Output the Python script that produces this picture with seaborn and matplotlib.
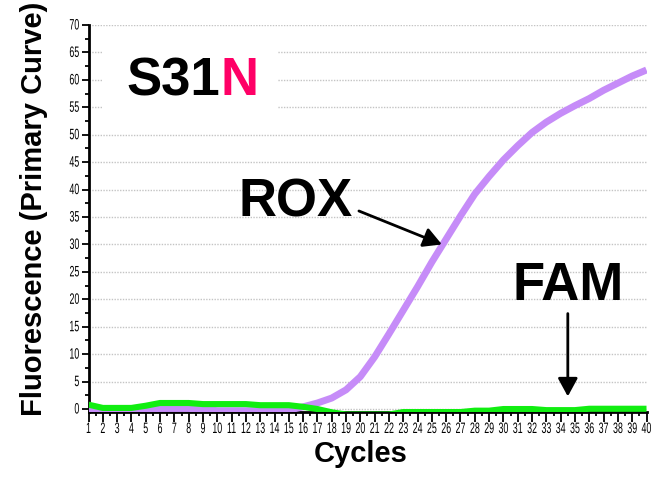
import numpy as np
import pandas as pd
import matplotlib
matplotlib.use("Agg")
import matplotlib.pyplot as plt
import matplotlib.patheffects as pe
from matplotlib.patches import Rectangle
from matplotlib.transforms import Affine2D
import seaborn as sns

# ---- data ----
cycles = list(range(1, 41))
rox = [-0.3, -0.3, -0.3, -0.3, 0.0, 0.1, 0.1, 0.1, 0.0,
       -0.3, -0.3, -0.3, -0.3, -0.3, -0.2,
       0.4, 1.1, 2.0, 3.5, 5.9, 9.5, 13.7, 18.0, 22.3, 26.8, 31.0, 35.2,
       39.2, 42.4, 45.4, 48.0, 50.4, 52.3, 53.9, 55.3, 56.6, 58.1, 59.4,
       60.7, 61.8]
fam = [0.8, 0.2, 0.2, 0.2, 0.6, 1.1, 1.1, 1.1, 0.9, 0.9, 0.9, 0.9,
       0.7, 0.7, 0.7, 0.4, 0.0, -0.6, -1.0, -1.0, -1.0, -1.0,
       -0.55, -0.55, -0.55, -0.55, -0.55, -0.3, -0.3, 0.0, 0.0, 0.0,
       -0.2, -0.2, -0.2, 0.05, 0.05, 0.05, 0.05, 0.05]
dyes = ["ROX", "FAM"]
y_ticks = list(range(0, 71, 5))
x_ticks = cycles

PURPLE = "#c68cf8"
GREEN = "#11ee11"
MAGENTA = "#ff0066"


class Squash(pe.AbstractPathEffect):
    """Draw text narrower / taller (condensed look) around an anchor."""

    def __init__(self, sx, sy, anchor="center"):
        super().__init__()
        self.sx, self.sy, self.anchor = sx, sy, anchor

    def draw_path(self, renderer, gc, tpath, affine, rgbFace=None):
        ext = tpath.get_extents()
        cx = (ext.x0 + ext.x1) / 2 if self.anchor == "center" else ext.x1
        a = Affine2D().translate(-cx, 0).scale(self.sx, self.sy).translate(cx, 0) + affine
        renderer.draw_path(gc, tpath, a, rgbFace)


sns.set_theme(style="white")
plt.rcParams["font.family"] = ["Liberation Sans", "DejaVu Sans"]

df = pd.DataFrame({
    "Cycle": cycles * 2,
    "Fluorescence": rox + fam,
    "Dye": [dyes[0]] * len(cycles) + [dyes[1]] * len(cycles),
})

fig = plt.figure(figsize=(6.63, 4.79), dpi=100)
ax = fig.add_axes([88.5 / 663, (479 - 411.5) / 479, 558 / 663, 386.5 / 479])

sns.lineplot(data=df, x="Cycle", y="Fluorescence", hue="Dye",
             palette={"ROX": PURPLE, "FAM": GREEN}, legend=False, ax=ax,
             estimator=None, sort=False)
for ln, lw in zip(ax.get_lines(), [5.0, 4.4]):
    ln.set_linewidth(lw)
    ln.set_zorder(3 if lw == 5.0 else 3.2)
    ln.set_solid_capstyle("butt")

ax.set_xlim(1, 40)
ax.set_ylim(-0.45, 70)
ax.set_xticks(x_ticks)
ax.set_xticks(np.arange(1.5, 40, 1), minor=True)
ax.set_yticks(y_ticks)
ax.set_yticks(np.arange(2.5, 70, 5), minor=True)
ax.tick_params(axis="both", which="major", direction="out", colors="black",
               width=1.3, length=5, labelsize=8.5, pad=1.5, bottom=True, left=True)
ax.tick_params(axis="both", which="minor", direction="out", colors="black",
               width=1.3, length=3, bottom=True, left=True)
ax.tick_params(axis="x", which="major", length=7, pad=2)
for lab in ax.get_xticklabels():
    lab.set_path_effects([Squash(0.75, 1.28, "center")])
for lab in ax.get_yticklabels():
    lab.set_path_effects([Squash(0.75, 1.28, "right")])

ax.yaxis.grid(True, which="major", linestyle=(0, (1, 1)), color="#c4c4c4", lw=1)
ax.set_axisbelow(True)
for s in ["top", "right"]:
    ax.spines[s].set_visible(False)
for s in ["left", "bottom"]:
    ax.spines[s].set_color("black")
    ax.spines[s].set_linewidth(2)

ax.set_xlabel("Cycles", fontsize=21, fontweight="bold", color="black")
ax.set_ylabel("Fluorescence (Primary Curve)", fontsize=21, fontweight="bold", color="black")
ax.xaxis.set_label_coords(0.488, -0.0725)
ax.yaxis.set_label_coords(-0.0717, 0.524)

# white panel behind the S31N label (hides the gridlines there)
ax.add_patch(Rectangle((0.026, 0.754), 0.3136, 0.2175, transform=ax.transAxes,
                       facecolor="white", edgecolor="none", zorder=1.5))
big = dict(fontsize=38, fontweight="bold", va="baseline", ha="left")
t = ax.text(3.64, 57.2, "S31", color="black", zorder=5, **big)
ax.annotate("N", xy=(1, 0), xycoords=t, color=MAGENTA, fontsize=38,
            fontweight="bold", va="bottom", ha="left", zorder=5)

arrow = dict(arrowstyle="-|>,head_length=0.55,head_width=0.3", color="black",
             lw=2, shrinkA=0, shrinkB=0, mutation_scale=20)
ax.text(15.45, 37.6, "ROX", fontsize=38, fontweight="bold", ha="center",
        va="center", color="black")
ax.annotate("", xy=(25.7, 30.0), xytext=(19.9, 36.1), arrowprops=arrow)
ax.text(34.5, 22.5, "FAM", fontsize=38, fontweight="bold", ha="center",
        va="center", color="black")
ax.annotate("", xy=(34.5, 2.3), xytext=(34.5, 17.4), arrowprops=arrow)

fig.savefig("out.png", dpi=100)
